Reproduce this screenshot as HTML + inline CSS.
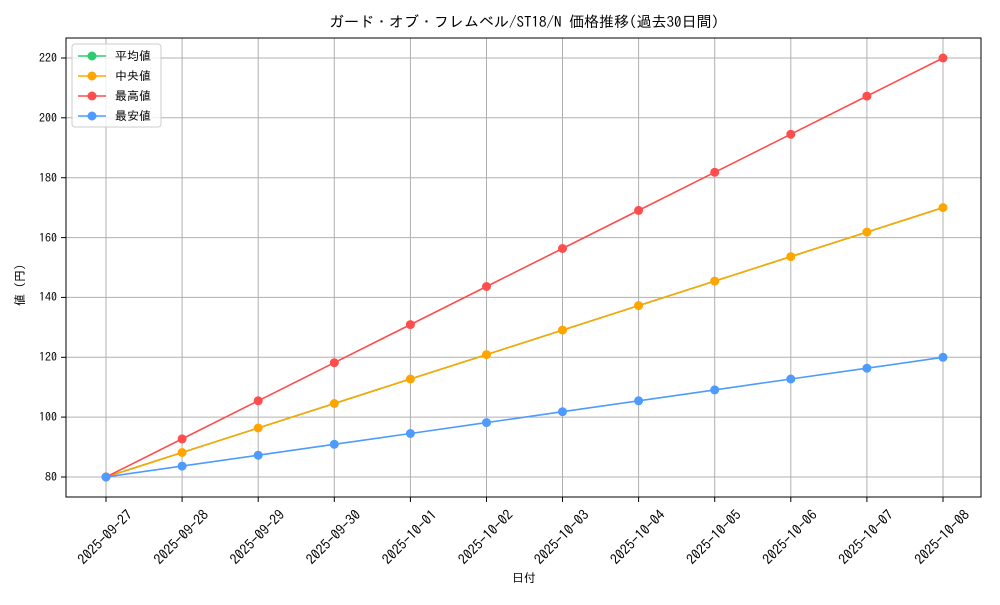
<!DOCTYPE html>
<html><head><meta charset="utf-8"><style>
body{margin:0;background:#fff}
text{font-family:"IPAGothic","Noto Sans CJK JP",monospace;fill:#000}
</style></head><body>
<svg width="1000" height="600" xmlns="http://www.w3.org/2000/svg">
<rect width="1000" height="600" fill="#fff"/>
<g stroke="#b0b0b0" stroke-width="1">
<line x1="106" y1="38" x2="106" y2="497"/><line x1="182.1" y1="38" x2="182.1" y2="497"/><line x1="258.2" y1="38" x2="258.2" y2="497"/><line x1="334.3" y1="38" x2="334.3" y2="497"/><line x1="410.4" y1="38" x2="410.4" y2="497"/><line x1="486.5" y1="38" x2="486.5" y2="497"/><line x1="562.5" y1="38" x2="562.5" y2="497"/><line x1="638.6" y1="38" x2="638.6" y2="497"/><line x1="714.7" y1="38" x2="714.7" y2="497"/><line x1="790.8" y1="38" x2="790.8" y2="497"/><line x1="866.9" y1="38" x2="866.9" y2="497"/><line x1="943" y1="38" x2="943" y2="497"/>
<line x1="66" y1="477" x2="981" y2="477"/><line x1="66" y1="417.1" x2="981" y2="417.1"/><line x1="66" y1="357.3" x2="981" y2="357.3"/><line x1="66" y1="297.4" x2="981" y2="297.4"/><line x1="66" y1="237.6" x2="981" y2="237.6"/><line x1="66" y1="177.7" x2="981" y2="177.7"/><line x1="66" y1="117.8" x2="981" y2="117.8"/><line x1="66" y1="58" x2="981" y2="58"/>
</g>
<rect x="66" y="38" width="915" height="459" fill="none" stroke="#000" stroke-width="1"/>
<g stroke="#000">
<line x1="61" y1="477" x2="66" y2="477"/><line x1="61" y1="417.1" x2="66" y2="417.1"/><line x1="61" y1="357.3" x2="66" y2="357.3"/><line x1="61" y1="297.4" x2="66" y2="297.4"/><line x1="61" y1="237.6" x2="66" y2="237.6"/><line x1="61" y1="177.7" x2="66" y2="177.7"/><line x1="61" y1="117.8" x2="66" y2="117.8"/><line x1="61" y1="58" x2="66" y2="58"/>
<line x1="106" y1="497" x2="106" y2="502"/><line x1="182.1" y1="497" x2="182.1" y2="502"/><line x1="258.2" y1="497" x2="258.2" y2="502"/><line x1="334.3" y1="497" x2="334.3" y2="502"/><line x1="410.4" y1="497" x2="410.4" y2="502"/><line x1="486.5" y1="497" x2="486.5" y2="502"/><line x1="562.5" y1="497" x2="562.5" y2="502"/><line x1="638.6" y1="497" x2="638.6" y2="502"/><line x1="714.7" y1="497" x2="714.7" y2="502"/><line x1="790.8" y1="497" x2="790.8" y2="502"/><line x1="866.9" y1="497" x2="866.9" y2="502"/><line x1="943" y1="497" x2="943" y2="502"/>
</g>
<g font-size="12" text-anchor="end">
<text x="57" y="481">80</text><text x="57" y="421">100</text><text x="57" y="361">120</text><text x="57" y="301">140</text><text x="57" y="242">160</text><text x="57" y="182">180</text><text x="57" y="122">200</text><text x="57" y="62">220</text>
</g>
<g font-size="14" text-anchor="middle">
<text transform="translate(105,537) rotate(-45)" dy="5">2025-09-27</text>
<text transform="translate(181.1,537) rotate(-45)" dy="5">2025-09-28</text>
<text transform="translate(257.2,537) rotate(-45)" dy="5">2025-09-29</text>
<text transform="translate(333.3,537) rotate(-45)" dy="5">2025-09-30</text>
<text transform="translate(409.4,537) rotate(-45)" dy="5">2025-10-01</text>
<text transform="translate(485.5,537) rotate(-45)" dy="5">2025-10-02</text>
<text transform="translate(561.5,537) rotate(-45)" dy="5">2025-10-03</text>
<text transform="translate(637.6,537) rotate(-45)" dy="5">2025-10-04</text>
<text transform="translate(713.7,537) rotate(-45)" dy="5">2025-10-05</text>
<text transform="translate(789.8,537) rotate(-45)" dy="5">2025-10-06</text>
<text transform="translate(865.9,537) rotate(-45)" dy="5">2025-10-07</text>
<text transform="translate(942,537) rotate(-45)" dy="5">2025-10-08</text>
</g>
<text x="524" y="582" font-size="12" text-anchor="middle">日付</text>
<text transform="translate(24,285) rotate(-90)" font-size="12" text-anchor="middle">値 (円)</text>
<text x="524" y="27" font-size="15" text-anchor="middle">ガード・オブ・フレムベル/ST18/N 価格推移(過去30日間)</text>
<g fill="none" stroke-width="1.6">
<polyline stroke="#2ecc71" points="106,477 182.1,452.5 258.2,428 334.3,403.5 410.4,379 486.5,354.6 562.5,330.1 638.6,305.6 714.7,281.1 790.8,256.6 866.9,232.1 943,207.6"/>
<polyline stroke="#ffa500" points="106,477 182.1,452.5 258.2,428 334.3,403.5 410.4,379 486.5,354.6 562.5,330.1 638.6,305.6 714.7,281.1 790.8,256.6 866.9,232.1 943,207.6"/>
<polyline stroke="#ff4d4d" points="106,477 182.1,438.9 258.2,400.8 334.3,362.7 410.4,324.6 486.5,286.5 562.5,248.5 638.6,210.4 714.7,172.3 790.8,134.2 866.9,96.1 943,58"/>
<polyline stroke="#4d9bff" points="106,477 182.1,466.1 258.2,455.2 334.3,444.3 410.4,433.5 486.5,422.6 562.5,411.7 638.6,400.8 714.7,389.9 790.8,379 866.9,368.2 943,357.3"/>
</g>
<g fill="#ffa500">
<circle cx="106" cy="477" r="4.5"/><circle cx="182.1" cy="452.5" r="4.5"/><circle cx="258.2" cy="428" r="4.5"/><circle cx="334.3" cy="403.5" r="4.5"/><circle cx="410.4" cy="379" r="4.5"/><circle cx="486.5" cy="354.6" r="4.5"/><circle cx="562.5" cy="330.1" r="4.5"/><circle cx="638.6" cy="305.6" r="4.5"/><circle cx="714.7" cy="281.1" r="4.5"/><circle cx="790.8" cy="256.6" r="4.5"/><circle cx="866.9" cy="232.1" r="4.5"/><circle cx="943" cy="207.6" r="4.5"/>
</g>
<g fill="#ff4d4d">
<circle cx="106" cy="477" r="4.5"/><circle cx="182.1" cy="438.9" r="4.5"/><circle cx="258.2" cy="400.8" r="4.5"/><circle cx="334.3" cy="362.7" r="4.5"/><circle cx="410.4" cy="324.6" r="4.5"/><circle cx="486.5" cy="286.5" r="4.5"/><circle cx="562.5" cy="248.5" r="4.5"/><circle cx="638.6" cy="210.4" r="4.5"/><circle cx="714.7" cy="172.3" r="4.5"/><circle cx="790.8" cy="134.2" r="4.5"/><circle cx="866.9" cy="96.1" r="4.5"/><circle cx="943" cy="58" r="4.5"/>
</g>
<g fill="#4d9bff">
<circle cx="106" cy="477" r="4.5"/><circle cx="182.1" cy="466.1" r="4.5"/><circle cx="258.2" cy="455.2" r="4.5"/><circle cx="334.3" cy="444.3" r="4.5"/><circle cx="410.4" cy="433.5" r="4.5"/><circle cx="486.5" cy="422.6" r="4.5"/><circle cx="562.5" cy="411.7" r="4.5"/><circle cx="638.6" cy="400.8" r="4.5"/><circle cx="714.7" cy="389.9" r="4.5"/><circle cx="790.8" cy="379" r="4.5"/><circle cx="866.9" cy="368.2" r="4.5"/><circle cx="943" cy="357.3" r="4.5"/>
</g>
<rect x="72" y="44" width="89" height="83" rx="3" fill="#fff" fill-opacity="0.8" stroke="#ccc"/>
<g stroke-width="1.6">
<line x1="78" y1="56" x2="106" y2="56" stroke="#2ecc71"/><circle cx="92" cy="56" r="4.5" fill="#2ecc71"/>
<line x1="78" y1="76" x2="106" y2="76" stroke="#ffa500"/><circle cx="92" cy="76" r="4.5" fill="#ffa500"/>
<line x1="78" y1="96" x2="106" y2="96" stroke="#ff4d4d"/><circle cx="92" cy="96" r="4.5" fill="#ff4d4d"/>
<line x1="78" y1="116" x2="106" y2="116" stroke="#4d9bff"/><circle cx="92" cy="116" r="4.5" fill="#4d9bff"/>
</g>
<g font-size="12">
<text x="115" y="60">平均値</text><text x="115" y="80">中央値</text><text x="115" y="100">最高値</text><text x="115" y="120">最安値</text>
</g>
</svg>
</body></html>
